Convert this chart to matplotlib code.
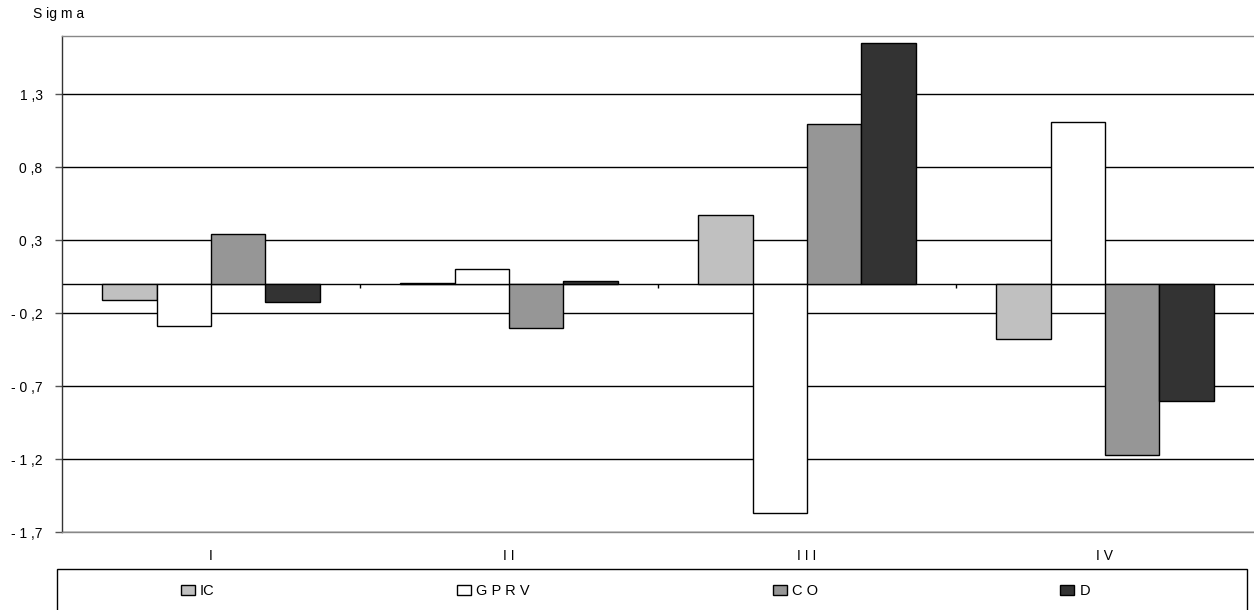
import numpy as np
import matplotlib
matplotlib.use("Agg")
import matplotlib.pyplot as plt
from matplotlib.patches import Rectangle

plt.rcParams['font.family'] = ['Liberation Sans', 'DejaVu Sans']
plt.rcParams['font.size'] = 10

groups = ["I", "I I", "I I I", "I V"]
series = ["IC", "G P R V", "C O", "D"]
ic = [-0.11, 0.01, 0.47, -0.38]
gprv = [-0.29, 0.10, -1.57, 1.11]
co = [0.34, -0.30, 1.10, -1.17]
d = [-0.12, 0.02, 1.65, -0.80]
colors = ["#c0c0c0", "#ffffff", "#969696", "#333333"]

yticks = [-1.7, -1.2, -0.7, -0.2, 0.3, 0.8, 1.3]
ytick_labels = ["- 1 ,7", "- 1 ,2", "- 0 ,7", "- 0 ,2", "0 ,3", "0 ,8", "1 ,3"]

W, H = 1254, 610
fig = plt.figure(figsize=(W / 100, H / 100), dpi=100)
ax = fig.add_axes([62 / W, 1 - 532 / H, 1 - 62 / W, (532 - 36) / H])

x = np.arange(len(groups))
w = 0.1825
for i, (vals, c, name) in enumerate(zip([ic, gprv, co, d], colors, series)):
    ax.bar(x + (i - 1.5) * w, vals, w, color=c, edgecolor="black", linewidth=1,
           label=name, zorder=3)

ax.set_xlim(-0.5, len(groups) - 0.5)
ax.set_ylim(-1.7, 1.7)
ax.set_yticks(yticks)
ax.set_yticklabels(ytick_labels)
ax.set_xticks(x)
ax.set_xticklabels(groups)
ax.tick_params(axis="x", length=0, pad=12)
ax.tick_params(axis="y", length=5, width=1, color="#555555", pad=9)

ax.set_axisbelow(True)
ax.yaxis.grid(True, color="black", linewidth=1)
ax.axhline(0, color="black", linewidth=1, zorder=2)
bounds = np.arange(len(groups) - 1) + 0.5
ax.vlines(bounds, -0.03, 0, color="black", linewidth=1, zorder=2)

ax.spines["right"].set_visible(False)
ax.spines["left"].set_color("#333333")
ax.spines["top"].set_color("#888888")
ax.spines["bottom"].set_color("#888888")
for s in ax.spines.values():
    s.set_linewidth(1)

fig.text(33 / W, 1 - 14 / H, "S ig m a", ha="left", va="center")

# legend frame
fig.patches.append(Rectangle((57 / W, -0.02), (1247 - 57) / W, (610 - 569) / H + 0.02,
                             transform=fig.transFigure, fill=False,
                             edgecolor="black", linewidth=1))
leg = fig.legend(loc="center", bbox_to_anchor=(181 / W, 1 - 591 / H - 0.02, (1090 - 181) / W, 0.04),
                 mode="expand", ncol=4, frameon=False, handlelength=0.95,
                 handleheight=0.7, handletextpad=0.35, borderpad=0, borderaxespad=0,
                 prop={"size": 10.5})

fig.savefig("out.png", dpi=100)
